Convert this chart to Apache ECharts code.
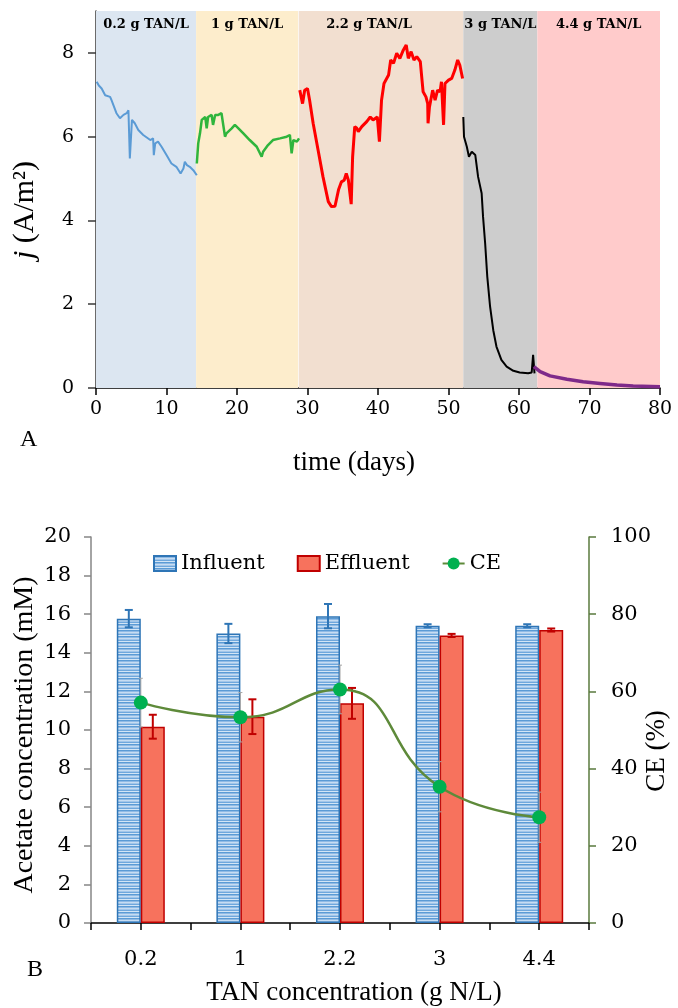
<!DOCTYPE html>
<html>
<head>
<meta charset="utf-8">
<script src="https://cdn.jsdelivr.net/npm/echarts@6/dist/echarts.min.js"></script>
<style>
  html, body { margin: 0; padding: 0; background: #ffffff; }
  #chart { width: 678px; height: 1008px; }
</style>
</head>
<body>
<div id="chart"></div>
<script>
// ---- Panel A: current density j (A/m²) vs time (days), one trace per TAN loading ----
const run02 = [[0.1,7.31],[0.4,7.22],[0.8,7.15],[1.3,6.99],[2.0,6.95],[2.2,6.87],[2.9,6.56],[3.4,6.44],[3.9,6.52],[4.35,6.56],[4.6,6.63],[4.8,5.48],[5.1,6.40],[5.5,6.32],[6.0,6.16],[6.7,6.04],[7.7,5.92],[8.1,5.96],[8.2,5.56],[8.4,5.84],[8.8,5.88],[9.3,5.76],[10.0,5.56],[10.7,5.36],[11.4,5.28],[12.0,5.12],[12.4,5.24],[12.6,5.40],[12.9,5.32],[13.3,5.28],[13.8,5.20],[14.3,5.08]];
const run1 = [[14.3,5.36],[14.5,5.84],[14.75,6.08],[15.0,6.40],[15.5,6.47],[15.7,6.20],[15.9,6.47],[16.4,6.52],[16.6,6.28],[16.9,6.52],[17.35,6.52],[17.8,6.56],[18.05,6.54],[18.3,6.00],[18.5,6.08],[19.25,6.20],[19.7,6.28],[20.2,6.20],[20.9,6.08],[21.8,5.92],[22.8,5.76],[23.5,5.52],[23.7,5.64],[24.4,5.80],[25.1,5.92],[26.1,5.96],[27.05,6.00],[27.5,6.04],[27.75,5.60],[28.0,5.92],[28.5,5.88],[28.8,5.96]];
const run22 = [[28.9,7.11],[29.3,6.79],[29.6,7.11],[30.0,7.15],[30.3,6.87],[30.8,6.32],[31.5,5.68],[32.2,5.04],[32.95,4.45],[33.4,4.33],[33.9,4.34],[34.4,4.73],[34.8,4.92],[35.2,4.96],[35.5,5.12],[35.8,4.96],[36.2,4.39],[36.4,5.52],[36.7,6.24],[37.0,6.20],[37.2,6.12],[37.7,6.24],[38.4,6.36],[38.9,6.47],[39.3,6.40],[39.9,6.47],[40.2,5.88],[40.5,6.87],[40.85,7.27],[41.5,7.47],[41.8,7.83],[42.2,7.75],[42.65,7.99],[43.1,7.87],[43.6,8.07],[44.0,8.19],[44.3,7.87],[44.7,8.03],[45.1,7.83],[45.5,7.91],[46.0,7.79],[46.2,7.43],[46.4,7.07],[46.8,6.95],[47.05,6.79],[47.1,6.32],[47.3,6.71],[47.75,7.11],[48.1,6.87],[48.45,7.11],[48.8,7.07],[49.0,7.31],[49.3,6.28],[49.5,7.27],[50.0,7.35],[50.45,7.39],[50.9,7.59],[51.3,7.83],[51.6,7.71],[52.0,7.39]];
const run3 = [[52.1,6.47],[52.2,6.00],[52.6,5.76],[52.9,5.52],[53.3,5.64],[53.5,5.68],[53.8,5.56],[54.2,5.04],[54.7,4.65],[54.9,4.09],[55.2,3.45],[55.5,2.66],[55.9,1.94],[56.35,1.38],[56.8,0.99],[57.5,0.67],[58.25,0.51],[59.2,0.41],[60.1,0.37],[61.3,0.35],[61.8,0.37],[62.0,0.79],[62.2,0.35]];
const run44 = [[62.1,0.51],[63.0,0.39],[64.4,0.29],[66.8,0.21],[69.1,0.15],[71.5,0.11],[73.9,0.07],[76.2,0.05],[80,0.03]];

// TAN loading periods (days)
const periodStart = [0, 14.2, 28.75, 52.1, 62.6];
const periodEnd = [14.2, 28.65, 52.1, 62.6, 80];
const periodLabel = ['0.2 g TAN/L', '1 g TAN/L', '2.2 g TAN/L', '3 g TAN/L', '4.4 g TAN/L'];
const jTicks = [0, 2, 4, 6, 8];

// ---- Panel B: acetate in influent / effluent and coulombic efficiency ----
const tanLevels = ['0.2', '1', '2.2', '3', '4.4'];
const influent = [15.77, 15.0, 15.9, 15.4, 15.4];
const influentErr = [0.45, 0.5, 0.63, 0.08, 0.08];
const effluent = [10.17, 10.69, 11.38, 14.9, 15.18];
const effluentErr = [0.62, 0.9, 0.8, 0.08, 0.08];
const ce = [57.1, 53.3, 60.5, 35.3, 27.4];
const ceErr = [6.3, 6.4, 6.3, 6.5, 6.5];

const periodColors = ['#dce6f1', '#fdedcc', '#f2dfd0', '#cdcdcd', '#ffcbcb'];
const TICK_FONT = 'DejaVu Serif';
const TITLE_FONT = 'Liberation Serif';

// horizontal-stripe fill for the influent bars
function stripeFill() {
  const c = document.createElement('canvas');
  c.width = 4; c.height = 6;
  const g = c.getContext('2d');
  ['#5b9bd5', '#8fbae5', '#c6dcf2', '#a2c6ea', '#6fa7dc', '#d3e5f6'].forEach((col, k) => {
    g.fillStyle = col; g.fillRect(0, k, 4, 1);
  });
  return { image: c, repeat: 'repeat' };
}

// vertical error bar with caps, shifted sideways to sit on its bar
function errorBars(values, errs, shift, color, width, cap, xAxisIndex, yAxisIndex, z) {
  return {
    type: 'custom',
    xAxisIndex: xAxisIndex, yAxisIndex: yAxisIndex,
    z: z, silent: true,
    data: values.map((v, i) => [i, v - errs[i], v + errs[i]]),
    renderItem: function (params, api) {
      const lo = api.coord([api.value(0), api.value(1)]);
      const hi = api.coord([api.value(0), api.value(2)]);
      const x = lo[0] + shift;
      const style = { stroke: color, lineWidth: width };
      return {
        type: 'group',
        children: [
          { type: 'line', shape: { x1: x, y1: lo[1], x2: x, y2: hi[1] }, style: style },
          { type: 'line', shape: { x1: x - cap, y1: lo[1], x2: x + cap, y2: lo[1] }, style: style },
          { type: 'line', shape: { x1: x - cap, y1: hi[1], x2: x + cap, y2: hi[1] }, style: style }
        ]
      };
    }
  };
}

function trace(data, color, width) {
  return {
    type: 'line', xAxisIndex: 0, yAxisIndex: 0,
    data: data, showSymbol: false, silent: true, z: 3,
    lineStyle: { color: color, width: width }, itemStyle: { color: color }
  };
}

const chart = echarts.init(document.getElementById('chart'));

const option = {
  animation: false,
  backgroundColor: '#ffffff',
  grid: [
    { left: 96, right: 18, top: 11, height: 377 },
    { left: 91, right: 89, top: 537, height: 386 }
  ],
  legend: {
    data: [
      { name: 'Influent', icon: 'rect' },
      { name: 'Effluent', icon: 'rect' },
      { name: 'CE' }
    ],
    left: 148, top: 548,
    itemWidth: 22, itemHeight: 15, itemGap: 32,
    textStyle: { fontFamily: TICK_FONT, fontSize: 21, color: '#000' }
  },
  xAxis: [
    {
      type: 'value', gridIndex: 0, min: 0, max: 80, interval: 10,
      axisLine: { lineStyle: { color: '#000', width: 1.5 } },
      axisTick: { show: true, length: 7, lineStyle: { color: '#000', width: 1.5 } },
      axisLabel: { color: '#000', fontFamily: TICK_FONT, fontSize: 19, margin: 12 },
      splitLine: { show: false }
    },
    {
      type: 'category', gridIndex: 1, data: tanLevels, boundaryGap: true,
      axisLine: { lineStyle: { color: '#000', width: 1.5 } },
      axisTick: { show: true, length: 7, lineStyle: { color: '#000', width: 1.5 } },
      axisLabel: { color: '#000', fontFamily: TICK_FONT, fontSize: 21, margin: 26 }
    },
    {
      type: 'category', gridIndex: 1, data: tanLevels, boundaryGap: true, position: 'bottom',
      axisLine: { show: false },
      axisTick: { show: true, alignWithLabel: true, length: 7, lineStyle: { color: '#000', width: 1.5 } },
      axisLabel: { show: false }
    }
  ],
  yAxis: [
    {
      type: 'value', gridIndex: 0, min: 0, max: 9,
      axisLine: { show: true, lineStyle: { color: '#3a3a3a', width: 1.5 } },
      axisTick: { show: true, length: 8, customValues: jTicks, lineStyle: { color: '#3a3a3a', width: 1.5 } },
      axisLabel: { color: '#000', fontFamily: TICK_FONT, fontSize: 19, margin: 22, customValues: jTicks },
      splitLine: { show: false }
    },
    {
      type: 'value', gridIndex: 1, min: 0, max: 20, interval: 2,
      axisLine: { show: true, lineStyle: { color: '#868686', width: 1.5 } },
      axisTick: { show: true, length: 7, lineStyle: { color: '#868686', width: 1.5 } },
      axisLabel: { color: '#000', fontFamily: TICK_FONT, fontSize: 21, margin: 20 },
      splitLine: { show: false }
    },
    {
      type: 'value', gridIndex: 1, position: 'right', min: 0, max: 100, interval: 20,
      axisLine: { show: true, lineStyle: { color: '#5a7a3e', width: 1.5 } },
      axisTick: { show: true, length: 7, lineStyle: { color: '#5a7a3e', width: 1.5 } },
      axisLabel: { color: '#000', fontFamily: TICK_FONT, fontSize: 21, margin: 22 },
      splitLine: { show: false }
    }
  ],
  series: [
    {
      // shaded TAN loading periods with their labels
      type: 'line', xAxisIndex: 0, yAxisIndex: 0, data: [], z: 1, silent: true,
      markArea: {
        silent: true,
        data: periodStart.map((s, i) => [
          {
            xAxis: s,
            itemStyle: { color: periodColors[i] },
            label: {
              show: true, position: 'insideTop', distance: 7,
              formatter: periodLabel[i],
              fontFamily: TICK_FONT, fontWeight: 'bold', fontSize: 13, color: '#000',
              offset: [i === 2 ? -12 : 0, 0]
            }
          },
          { xAxis: periodEnd[i] }
        ])
      }
    },
    trace(run02, '#5b9bd5', 2),
    trace(run1, '#2fb53d', 2.5),
    trace(run22, '#ff0000', 3),
    trace(run3, '#000000', 2),
    trace(run44, '#7e2a8a', 3.5),
    {
      name: 'Influent', type: 'bar', xAxisIndex: 1, yAxisIndex: 1,
      data: influent, barWidth: 24, barGap: '0%',
      itemStyle: { color: stripeFill(), borderColor: '#2e75b6', borderWidth: 1.5 }
    },
    {
      name: 'Effluent', type: 'bar', xAxisIndex: 1, yAxisIndex: 1,
      data: effluent, barWidth: 24, barGap: '0%',
      itemStyle: { color: '#f7725d', borderColor: '#c00000', borderWidth: 1.5 }
    },
    errorBars(influent, influentErr, -12, '#2e75b6', 2, 4, 1, 1, 5),
    errorBars(effluent, effluentErr, 12, '#c00000', 2, 4, 1, 1, 5),
    errorBars(ce, ceErr, 0, '#a6a6a6', 1, 2, 1, 2, 6),
    {
      name: 'CE', type: 'line', xAxisIndex: 1, yAxisIndex: 2,
      data: ce, smooth: 0.5, z: 8,
      symbol: 'circle', symbolSize: 14,
      lineStyle: { color: '#5e8a3a', width: 2.5 },
      itemStyle: { color: '#00b050' }
    }
  ],
  graphic: [
    {
      type: 'text', x: 25, y: 210, rotation: Math.PI / 2,
      style: {
        text: '{i|j} (A/m²)', fontFamily: TITLE_FONT, fontSize: 30, fill: '#000',
        align: 'center', verticalAlign: 'middle',
        rich: { i: { fontStyle: 'italic', fontFamily: TITLE_FONT, fontSize: 30 } }
      }
    },
    {
      type: 'text', x: 354, y: 463,
      style: { text: 'time (days)', fontFamily: TITLE_FONT, fontSize: 27, fill: '#000', align: 'center', verticalAlign: 'middle' }
    },
    {
      type: 'text', x: 20, y: 440,
      style: { text: 'A', fontFamily: TITLE_FONT, fontSize: 24, fill: '#000', align: 'left', verticalAlign: 'middle' }
    },
    {
      type: 'text', x: 25, y: 735, rotation: Math.PI / 2,
      style: { text: 'Acetate concentration (mM)', fontFamily: TITLE_FONT, fontSize: 28, fill: '#000', align: 'center', verticalAlign: 'middle' }
    },
    {
      type: 'text', x: 657, y: 751, rotation: Math.PI / 2,
      style: { text: 'CE (%)', fontFamily: TITLE_FONT, fontSize: 27, fill: '#000', align: 'center', verticalAlign: 'middle' }
    },
    {
      type: 'text', x: 354, y: 993,
      style: { text: 'TAN concentration (g N/L)', fontFamily: TITLE_FONT, fontSize: 27, fill: '#000', align: 'center', verticalAlign: 'middle' }
    },
    {
      type: 'text', x: 27, y: 970,
      style: { text: 'B', fontFamily: TITLE_FONT, fontSize: 24, fill: '#000', align: 'left', verticalAlign: 'middle' }
    }
  ]
};

chart.setOption(option);
</script>
</body>
</html>
